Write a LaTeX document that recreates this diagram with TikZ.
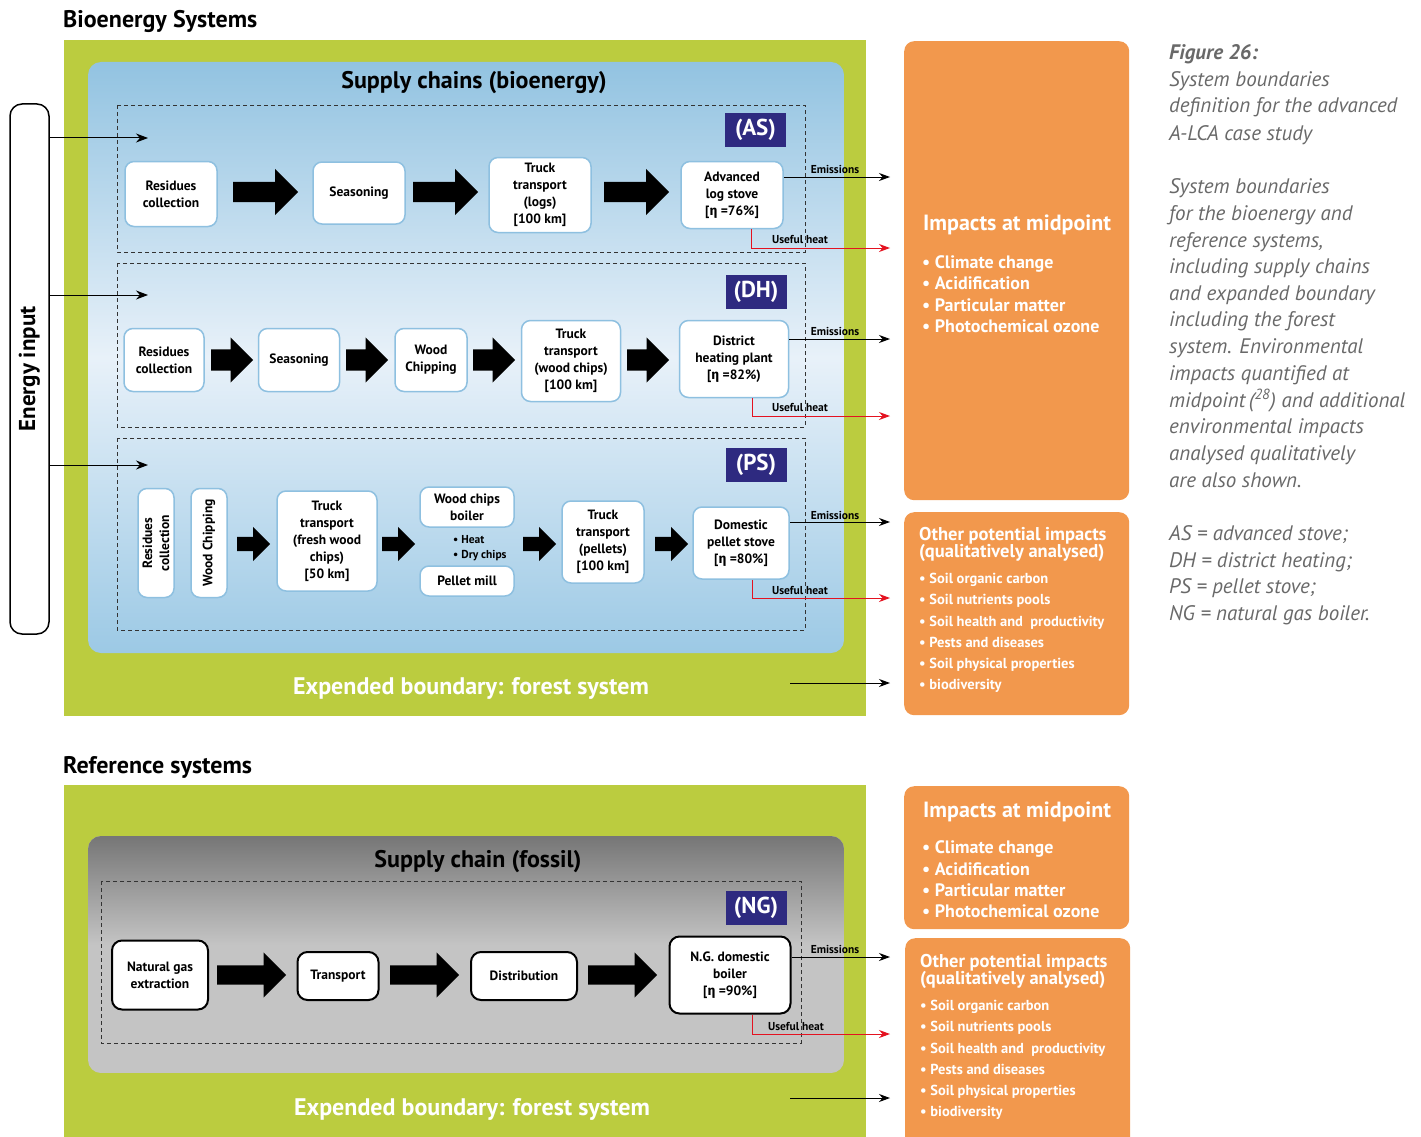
\documentclass[tikz,border=0pt]{standalone}
\usepackage{fontspec}
\setmainfont{PT Sans}
\newfontfamily\etaf{Fira Sans}
\usetikzlibrary{arrows.meta,shapes.arrows,calc}
\definecolor{lime}{RGB}{187,204,63}
\definecolor{blueA}{RGB}{146,195,225}
\definecolor{blueB}{RGB}{232,241,249}
\definecolor{blueC}{RGB}{156,201,229}
\definecolor{bbord}{RGB}{142,192,224}
\definecolor{navy}{RGB}{46,42,128}
\definecolor{orng}{RGB}{242,152,77}
\definecolor{greyA}{RGB}{118,118,118}
\definecolor{greyB}{RGB}{196,196,196}
\definecolor{heatred}{RGB}{228,18,32}
\definecolor{capgrey}{RGB}{105,105,105}
\newcommand{\fs}[2]{\fontsize{#1}{#2}\selectfont}
\newcommand{\eh}{{\etaf η}}
\tikzset{
  bio/.style={draw=bbord, line width=1.5pt, fill=white, rounded corners=9pt, align=center,
    font=\fs{13.5}{17}\bfseries, inner sep=1pt},
  fos/.style={draw=black, line width=2pt, fill=white, rounded corners=10pt, align=center,
    font=\fs{13.5}{17}\bfseries, inner sep=1pt},
  fat/.style={single arrow, fill=black, draw=none, inner xsep=0pt, minimum width=0pt,
    single arrow head indent=0pt, text height=0pt, text depth=0pt, anchor=tail},
  fatA/.style={fat, minimum height=65pt, inner ysep=10pt, single arrow head extend=13pt},
  fatD/.style={fat, minimum height=42pt, inner ysep=10.5pt, single arrow head extend=12pt},
  fatP/.style={fat, minimum height=33pt, inner ysep=7pt, single arrow head extend=10pt},
  fatN/.style={fat, minimum height=69pt, inner ysep=9.5pt, single arrow head extend=13pt},
  dbox/.style={draw=black!80, line width=0.9pt, dash pattern=on 4pt off 3pt},
  badge/.style={fill=navy, text=white, font=\fs{23}{26}\bfseries, minimum width=61pt, minimum height=34pt, inner sep=0pt},
  emis/.style={line width=1pt, -{Stealth[length=11pt,width=8pt]}},
  heat/.style={line width=1pt, draw=heatred, -{Stealth[length=11pt,width=8pt]}},
  smalllbl/.style={font=\fs{11.5}{14}\bfseries, inner sep=0pt},
  obox/.style={fill=orng, rounded corners=10pt, draw=none, inner sep=0pt, anchor=north west},
  otitle/.style={text=white, font=\fs{22}{24}\bfseries, anchor=base west, inner sep=0pt},
  obul/.style={text=white, font=\fs{18}{22}\bfseries, anchor=base west, inner sep=0pt},
  otitleb/.style={text=white, font=\fs{18.5}{17}\bfseries, anchor=base west, inner sep=0pt},
  obulb/.style={text=white, font=\fs{14.5}{17}\bfseries, anchor=base west, inner sep=0pt},
  captxt/.style={text=capgrey, font=\fs{21}{24}\itshape, anchor=base west, inner sep=0pt},
  ttl/.style={font=\fs{24}{28}\bfseries, anchor=base west, inner sep=0pt},
  sctl/.style={font=\fs{24}{28}\bfseries, anchor=base, inner sep=0pt},
  exb/.style={text=white, font=\fs{24}{28}\bfseries, anchor=base, inner sep=0pt},
  einarr/.style={line width=1pt, -{Stealth[length=12pt,width=9pt]}}
}
\begin{document}
\begin{tikzpicture}[x=1pt,y=-1pt]
\useasboundingbox (0,0) rectangle (1421,1137);

% ================= Bioenergy systems =================
\node[ttl] (title1) at (63,28) {Bioenergy Systems};
\fill[lime] (64,40) rectangle (866,716);
\shade[rounded corners=13pt, top color=blueA, bottom color=blueC, middle color=blueB] (88,62) rectangle (844,653);
\node[sctl] (sc1) at (474,89) {Supply chains (bioenergy)};

\draw[dbox] (117,105) rectangle (805,252);
\draw[dbox] (117,263) rectangle (805,427);
\draw[dbox] (117,438) rectangle (805,630);

\node[badge] (bAS) at (755.5,130) {(AS)};
\node[badge] (bDH) at (756,291.5) {(DH)};
\node[badge] (bPS) at (756,464.5) {(PS)};

% Energy input
\node[draw, line width=1.5pt, fill=white, rounded corners=12pt, minimum width=39pt, minimum height=530pt, inner sep=0pt] (einbox) at (29.5,369) {};
\node[rotate=90, font=\fs{23}{26}\bfseries, inner sep=0pt] (eintext) at (einbox.center) {Energy input};
\coordinate (ein1) at (148,138);
\coordinate (ein2) at (148,295);
\coordinate (ein3) at (148,465);
\draw[einarr] (einbox.east |- ein1) -- (ein1);
\draw[einarr] (einbox.east |- ein2) -- (ein2);
\draw[einarr] (einbox.east |- ein3) -- (ein3);

% AS row
\node[bio, minimum width=92pt, minimum height=65pt] (nAS1) at (171,194) {Residues\\collection};
\node[bio, minimum width=92pt, minimum height=62pt] (nAS2) at (359,193) {Seasoning};
\node[bio, minimum width=102pt, minimum height=75pt] (nAS3) at (540,195) {Truck\\transport\\(logs)\\{}[100 km]};
\node[bio, minimum width=102pt, minimum height=67pt] (nAS4) at (732,195) {Advanced\\log stove\\{}[\eh\ =76\%]};
\node[fatA] (fAS1) at (233,192) {};
\node[fatA] (fAS2) at (413,192) {};
\node[fatA] (fAS3) at (604,192) {};

% DH row
\node[bio, minimum width=80pt, minimum height=63pt] (nDH1) at (164,360) {Residues\\collection};
\node[bio, minimum width=81pt, minimum height=63pt] (nDH2) at (299,360) {Seasoning};
\node[bio, minimum width=72pt, minimum height=63pt] (nDH3) at (431,360) {Wood\\Chipping};
\node[bio, minimum width=99pt, minimum height=81pt] (nDH4) at (571,361) {Truck\\transport\\(wood chips)\\{}[100 km]};
\node[bio, minimum width=109pt, minimum height=77pt] (nDH5) at (734,359) {District\\heating plant\\{}[\eh\ =82\%)};
\node[fatD] (fDH1) at (211,360) {};
\node[fatD] (fDH2) at (346,360) {};
\node[fatD] (fDH3) at (473,360) {};
\node[fatD] (fDH4) at (627,360) {};

% PS row
\node[bio, rotate=90, minimum width=109pt, minimum height=36pt] (nPS1) at (156,543) {Residues\\collection};
\node[bio, rotate=90, minimum width=109pt, minimum height=36pt] (nPS2) at (209,543) {Wood Chipping};
\node[bio, minimum width=100pt, minimum height=100pt] (nPS3) at (327,541) {Truck\\transport\\(fresh wood\\chips)\\{}[50 km]};
\node[bio, minimum width=94pt, minimum height=40pt] (nPS4) at (467,507) {Wood chips\\boiler};
\node[align=left, font=\fs{11.5}{15}\bfseries, inner sep=0pt, anchor=west] (nPSt) at (453,548) {• Heat\\• Dry chips};
\node[bio, minimum width=94pt, minimum height=30pt] (nPS5) at (467,581) {Pellet mill};
\node[bio, minimum width=82pt, minimum height=82pt] (nPS6) at (603,542) {Truck\\transport\\(pellets)\\{}[100 km]};
\node[bio, minimum width=96pt, minimum height=72pt] (nPS7) at (741,543) {Domestic\\pellet stove\\{}[\eh\ =80\%]};
\node[fatP] (fPS1) at (237,544) {};
\node[fatP] (fPS2) at (382,544) {};
\node[fatP] (fPS3) at (523,544) {};
\node[fatP] (fPS4) at (655,544) {};

% emissions / useful heat (bio)
\coordinate (eAS) at (890,177);   \coordinate (hAS) at (751,248);  \coordinate (uAS) at (890,248);
\coordinate (eDH) at (890,339);   \coordinate (hDH) at (752,416);  \coordinate (uDH) at (890,416);
\coordinate (ePS) at (890,522);   \coordinate (hPS) at (752,598);  \coordinate (uPS) at (890,598);
\draw[emis] (nAS4.east |- eAS) -- (eAS);
\draw[heat] (nAS4.south -| hAS) -- (hAS) -- (uAS);
\draw[emis] (nDH5.east |- eDH) -- (eDH);
\draw[heat] (nDH5.south -| hDH) -- (hDH) -- (uDH);
\draw[emis] (nPS7.east |- ePS) -- (ePS);
\draw[heat] (nPS7.south -| hPS) -- (hPS) -- (uPS);
\node[smalllbl] (lAS1) at (835,169) {Emissions};
\node[smalllbl] (lAS2) at (800,240) {Useful heat};
\node[smalllbl] (lDH1) at (835,331) {Emissions};
\node[smalllbl] (lDH2) at (800,408) {Useful heat};
\node[smalllbl] (lPS1) at (835,515) {Emissions};
\node[smalllbl] (lPS2) at (800,591) {Useful heat};

\node[exb] (ex1) at (471,694) {Expended boundary: forest system};
\coordinate (fs1a) at (790,683); \coordinate (fs1b) at (890,683);
\draw[emis] (fs1a) -- (fs1b);

% orange boxes (top)
\node[obox, minimum width=225pt, minimum height=459pt] (imp1) at (904,41) {};
\node[otitle] (imp1t) at (923,230) {Impacts at midpoint};
\foreach \yy/\txt [count=\i] in {268/Climate change, 289/Acidification, 311/Particular matter, 332/Photochemical ozone}
  \node[obul] (imp1b\i) at (922,\yy) {• \txt};
\node[obox, minimum width=225pt, minimum height=203pt] (oth1) at (904,512) {};
\node[otitleb] (oth1t1) at (919,540) {Other potential impacts};
\node[otitleb] (oth1t2) at (919,557) {(qualitatively analysed)};
\foreach \yy/\txt [count=\i] in {583/Soil organic carbon, 604/Soil nutrients pools, 626/Soil health and\ \ productivity, 647/Pests and diseases, 668/Soil physical properties, 689/biodiversity}
  \node[obulb] (oth1b\i) at (919,\yy) {• \txt};

% caption
\foreach \yy/\txt [count=\i] in {87/System boundaries, 113/definition for the advanced, 140/A-LCA case study, 193/System boundaries, 220/for the bioenergy and, {247}/{reference systems,}, 273/including supply chains, 300/and expanded boundary, 326/including the forest, 353/system. Environmental, 380/impacts quantified at, 407/{midpoint\,(\textsuperscript{28}) and additional}, 433/environmental impacts, 460/analysed qualitatively, 487/are also shown., 540/AS = advanced stove;, 567/DH = district heating;, 593/PS = pellet stove;, 620/NG = natural gas boiler.}
  \node[captxt] (cap\i) at (1169,\yy) {\txt};
\node[captxt, font=\fs{21}{24}\bfseries\itshape] (capfig) at (1169,60) {Figure 26:};

% ================= Reference systems =================
\node[ttl] (title2) at (63,773) {Reference systems};
\fill[lime] (64,785) rectangle (866,1137);
\begin{scope}
  \clip[rounded corners=13pt] (88,836) rectangle (844,1073);
  \fill[greyB] (88,836) rectangle (844,1073);
  \shade[top color=greyA, bottom color=greyB] (88,836) rectangle (844,945);
\end{scope}
\node[sctl] (sc2) at (478,867) {Supply chain (fossil)};
\draw[dbox] (101,881) rectangle (801,1043);
\node[badge] (bNG) at (756,907.5) {(NG)};

\node[fos, minimum width=96pt, minimum height=69pt] (nNG1) at (160,975) {Natural gas\\extraction};
\node[fos, minimum width=81pt, minimum height=48pt] (nNG2) at (338,976) {Transport};
\node[fos, minimum width=106pt, minimum height=48pt] (nNG3) at (524,976) {Distribution};
\node[fos, minimum width=121pt, minimum height=77pt] (nNG4) at (730,975) {N.G. domestic\\boiler\\{}[\eh\ =90\%]};
\node[fatN] (fNG1) at (217,975) {};
\node[fatN] (fNG2) at (390,975) {};
\node[fatN] (fNG3) at (588,975) {};

\coordinate (eNG) at (890,957); \coordinate (hNG) at (752,1034); \coordinate (uNG) at (890,1034);
\draw[emis] (nNG4.east |- eNG) -- (eNG);
\draw[heat] (nNG4.south -| hNG) -- (hNG) -- (uNG);
\node[smalllbl] (lNG1) at (835,949) {Emissions};
\node[smalllbl] (lNG2) at (796,1026) {Useful heat};

\node[exb] (ex2) at (472,1115) {Expended boundary: forest system};
\coordinate (fs2a) at (790,1098); \coordinate (fs2b) at (890,1098);
\draw[emis] (fs2a) -- (fs2b);

% orange boxes (bottom)
\node[obox, minimum width=225pt, minimum height=143pt] (imp2) at (904,786) {};
\node[otitle] (imp2t) at (923,817) {Impacts at midpoint};
\foreach \yy/\txt [count=\i] in {853/Climate change, 875/Acidification, 896/Particular matter, 917/Photochemical ozone}
  \node[obul] (imp2b\i) at (922,\yy) {• \txt};
\node[obox, minimum width=225pt, minimum height=220pt] (oth2) at (905,938) {};
\node[otitleb] (oth2t1) at (920,967) {Other potential impacts};
\node[otitleb] (oth2t2) at (920,984) {(qualitatively analysed)};
\foreach \yy/\txt [count=\i] in {1010/Soil organic carbon, 1031/Soil nutrients pools, 1053/Soil health and\ \ productivity, 1074/Pests and diseases, 1095/Soil physical properties, 1116/biodiversity}
  \node[obulb] (oth2b\i) at (920,\yy) {• \txt};
\end{tikzpicture}
\end{document}
